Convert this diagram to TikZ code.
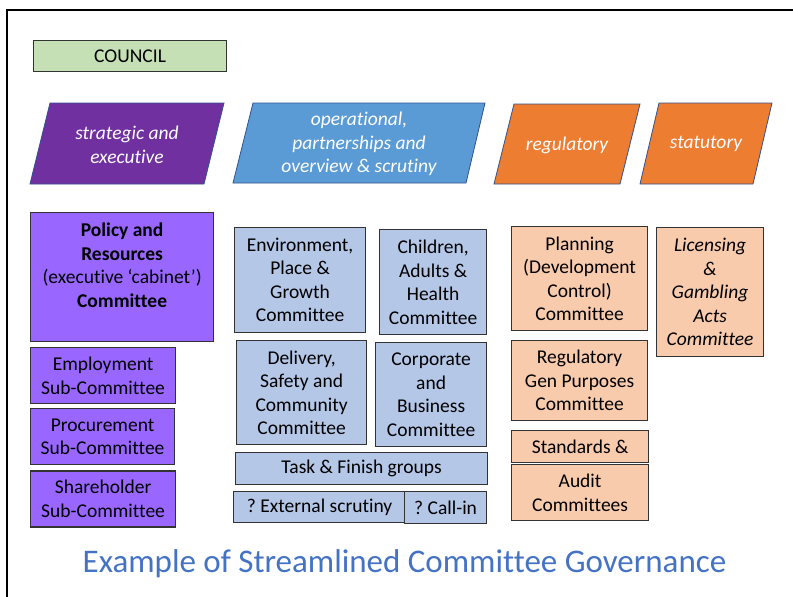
\documentclass[tikz,border=0pt]{standalone}
\usepackage{fontspec}
\setmainfont{Carlito}[Ligatures={TeX,NoCommon}]
\usetikzlibrary{positioning}

\definecolor{councilgreen}{HTML}{C5E0B4}
\definecolor{purpledark}{HTML}{7030A0}
\definecolor{purplelight}{HTML}{9966FF}
\definecolor{bluemid}{HTML}{5B9BD5}
\definecolor{bluelight}{HTML}{B4C7E7}
\definecolor{orangedark}{HTML}{ED7D31}
\definecolor{orangelight}{HTML}{F8CBAD}
\definecolor{bandline}{HTML}{2F528F}
\definecolor{titleblue}{HTML}{4472C4}

\begin{document}
\begin{tikzpicture}[x=1pt, y=-1pt,
  txt/.style={font=\fontsize{19.5}{23.5}\selectfont, align=center},
  box/.style={txt, draw=black!80, line width=1.2pt, inner sep=0pt, anchor=north west},
  band/.style={draw=bandline, line width=0.8pt},
  bandtext/.style={txt, text=white, font=\fontsize{19.5}{23.5}\selectfont\itshape}]
  \useasboundingbox (0,0) rectangle (793,597);

  % slide frame
  \draw[line width=2pt, line join=miter] (7,600) -- (7,10) -- (796,10);

  % Council
  \node[box, fill=councilgreen, minimum width=193pt, minimum height=31pt] (council) at (33,40) {COUNCIL};

  % category bands
  \draw[band, fill=purpledark] (30,184) -- (50,103) -- (224,103) -- (204,184) -- cycle;
  \node[bandtext] (strategic) at (127,145) {strategic and\\executive};
  \draw[band, fill=bluemid] (233,183) -- (253,103) -- (485,103) -- (466,183) -- cycle;
  \node[bandtext] (operational) at (359,144) {operational,\\partnerships and\\overview \& scrutiny};
  \draw[band, fill=orangedark] (494,184) -- (514,104) -- (640,104) -- (620,184) -- cycle;
  \node[bandtext] (regulatory) at (567,145) {regulatory};
  \draw[band, fill=orangedark] (640,184) -- (659,103) -- (772,103) -- (753,184) -- cycle;
  \node[bandtext] (statutory) at (706,144) {statutory};

  % strategic and executive
  \node[box, fill=purplelight, minimum width=183pt, minimum height=129pt] (policy) at (30,212)
    {\textbf{Policy and}\\\textbf{Resources}\\(executive `cabinet')\\\textbf{Committee}\\\mbox{}};
  \node[box, fill=purplelight, minimum width=145pt, minimum height=56pt] (employment) at (30,347)
    {Employment\\Sub-Committee};
  \node[box, fill=purplelight, minimum width=144pt, minimum height=56pt,
    below=4pt of employment.south west, anchor=north west] (procurement) {Procurement\\Sub-Committee};
  \node[box, fill=purplelight, minimum width=145pt, minimum height=56pt,
    below=5pt of procurement.south west, anchor=north west] (shareholder) {Shareholder\\Sub-Committee};

  % operational, partnerships and scrutiny
  \node[box, fill=bluelight, minimum width=131pt, minimum height=105pt] (environment) at (234,227)
    {Environment,\\Place \&\\Growth\\Committee};
  \node[box, fill=bluelight, minimum width=107pt, minimum height=105pt] (children) at (379,229)
    {Children,\\Adults \&\\Health\\Committee};
  \node[box, fill=bluelight, minimum width=130pt, minimum height=104pt] (delivery) at (236,340)
    {Delivery,\\Safety and\\Community\\Committee};
  \node[box, fill=bluelight, minimum width=111pt, minimum height=104pt] (corporate) at (375,342)
    {Corporate\\and\\Business\\Committee};
  \node[box, fill=bluelight, minimum width=252pt, minimum height=32pt] (taskfinish) at (235,452)
    {Task \& Finish groups};
  \node[box, fill=bluelight, minimum width=172pt, minimum height=31pt] (external) at (233,491)
    {?~External scrutiny};
  \node[box, fill=bluelight, minimum width=82pt, minimum height=32pt] (callin) at (404,491)
    {?~Call-in};

  % regulatory
  \node[box, fill=orangelight, minimum width=136pt, minimum height=104pt] (planning) at (511,226)
    {Planning\\(Development\\Control)\\Committee};
  \node[box, fill=orangelight, minimum width=136pt, minimum height=80pt] (regulatorygp) at (511,340)
    {Regulatory\\Gen Purposes\\Committee};
  \node[box, fill=orangelight, minimum width=137pt, minimum height=32pt] (standards) at (511,430)
    {Standards \&};
  \node[box, fill=orangelight, minimum width=137pt, minimum height=56pt] (audit) at (511,464)
    {Audit\\Committees};

  % statutory
  \node[box, fill=orangelight, minimum width=107pt, minimum height=129pt,
    font=\fontsize{19.5}{23.5}\selectfont\itshape] (licensing) at (656,227)
    {Licensing\\\&\\Gambling\\Acts\\Committee};

  % heading
  \node[font=\fontsize{33}{39}\selectfont, text=titleblue, anchor=base] (title) at (404.5,572)
    {Example of Streamlined Committee Governance};
\end{tikzpicture}
\end{document}
